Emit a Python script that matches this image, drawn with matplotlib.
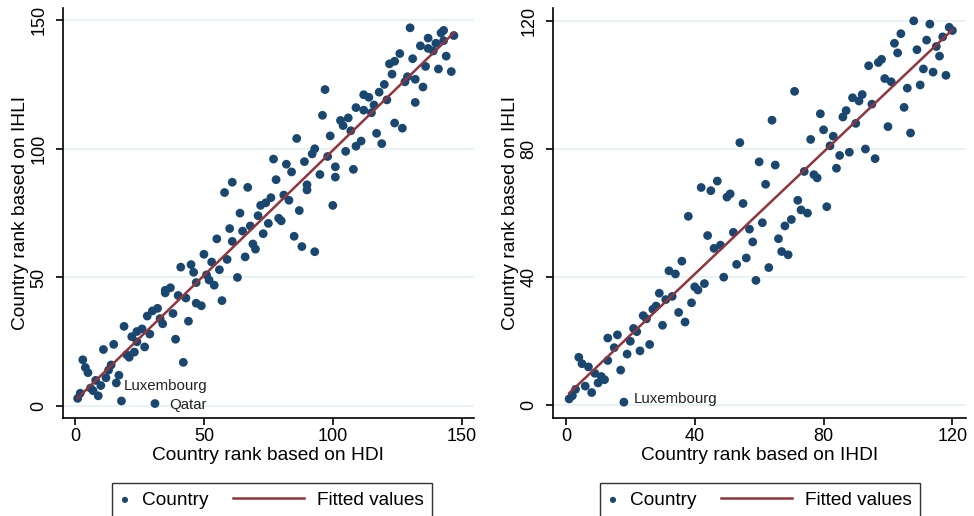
import numpy as np
import matplotlib
matplotlib.use("Agg")
import matplotlib.pyplot as plt
from matplotlib.legend_handler import HandlerPathCollection

plt.rcParams['font.family'] = ['Liberation Sans', 'DejaVu Sans']

# ---- Left panel: HDI rank vs IHLI rank ----
hdi_x = [130,142,143,147,137,143,140,134,137,139,126,131,144,122,124,136,141,146,123,129,128,132,120,118,135,
         112,114,97,121,116,132,109,112,115,96,103,106,104,107,124,127,99,86,117,119,111,109,93,92,105,98,77,89,
         82,101,108,84,95,101,78,61,58,67,90,90,81,83,76,74,72,64,71,79,87,100,
         80,75,60,65,68,73,85,55,61,69,70,88,93,50,66,59,53,45,41,56,46,51,63,52,47,54,37,35,35,40,43,57,47,49,
         32,30,28,38,33,34,44,19,26,24,29,22,39,24,15,27,11,23,20,21,42,3,4,5,14,13,8,10,12,17,16,6,7,9,2,1,18,31]
hdi_y = [147,145,146,144,143,142,141,140,139,138,137,135,136,133,134,132,131,130,129,128,126,127,125,122,124,
         121,120,123,119,117,118,116,115,114,113,111,112,109,107,110,108,105,104,106,102,103,101,100,98,99,97,96,95,
         94,93,92,91,90,89,88,87,83,85,86,84,82,80,81,79,78,75,74,73,76,78,
         72,71,69,68,70,67,66,65,64,63,61,62,60,59,58,57,56,55,54,53,52,51,50,49,48,47,46,45,44,43,42,41,40,39,
         38,37,35,36,34,32,33,31,30,29,28,27,26,25,24,23,22,21,20,19,17,18,15,13,16,14,10,8,11,12,9,7,6,4,5,3,2,1]

# ---- Right panel: IHDI rank vs IHLI rank ----
ihdi_x = [108,113,119,120,104,117,112,102,115,109,103,116,98,97,94,111,114,118,99,101,110,106,71,89,92,91,95,
          105,87,86,79,64,90,100,80,107,83,76,54,82,93,88,85,96,60,65,84,74,77,78,62,47,42,45,51,50,55,72,81,73,
          75,38,70,
          61,57,68,52,44,66,58,48,46,67,69,56,36,53,63,32,34,49,59,43,40,41,29,33,31,39,28,27,35,24,25,37,30,21,
          22,16,13,20,15,26,23,19,13,4,5,7,17,9,11,12,10,6,8,3,2,1,18]
ihdi_y = [120,119,118,117,116,115,114,113,112,111,110,109,108,107,106,105,104,103,102,101,100,99,98,96,97,95,94,
          93,92,90,91,89,88,87,86,85,84,83,82,81,80,79,78,77,76,75,74,73,72,71,69,70,68,67,66,65,63,64,62,61,
          60,59,58,
          57,55,56,54,53,52,51,50,49,48,47,46,45,44,43,42,41,40,39,38,37,36,35,34,33,32,31,30,29,28,27,26,25,24,
          23,22,21,20,18,19,17,16,14,15,13,12,11,10,9,8,7,6,4,5,3,2,1]

left_ticks = [0, 50, 100, 150]
right_ticks = [0, 40, 80, 120]

NAVY = '#1A476F'
MAROON = '#90353B'
GRID = '#EAF2F3'
FS_TICK = 13
FS_LAB = 13.8
FS_LEG = 13.7

W, H = 974, 516
fig = plt.figure(figsize=(W/100, H/100), dpi=100)


class ShortDot(HandlerPathCollection):
    def legend_artist(self, legend, orig_handle, fontsize, handlebox):
        handlebox.width = 0.45 * fontsize
        return super().legend_artist(legend, orig_handle, fontsize, handlebox)


def make_panel(rect, xs, ys, ticks, lim, xlabel, labels, legend_cx):
    ax = fig.add_axes(rect)
    xs = np.array(xs, float); ys = np.array(ys, float)
    ax.set_xlim(*lim); ax.set_ylim(*lim)
    for t in ticks:
        ax.axhline(t, color=GRID, lw=1.6, zorder=0)
    sc = ax.scatter(xs, ys, s=40, color=NAVY, edgecolors='none', zorder=3, label='Country')
    b, a = np.polyfit(xs, ys, 1)
    xx = np.array([xs.min(), xs.max()])
    ln, = ax.plot(xx, a + b*xx, color=MAROON, lw=1.8, zorder=4, label='Fitted values')
    for name, (px, py), (dx, dy) in labels:
        ax.annotate(name, (px, py), xytext=(dx, dy), textcoords='offset pixels',
                    ha='left', va='center', fontsize=10.8, color='#222222')
    for s in ['top', 'right']:
        ax.spines[s].set_visible(False)
    for s in ['left', 'bottom']:
        ax.spines[s].set_linewidth(1.2)
    ax.set_xticks(ticks); ax.set_yticks(ticks)
    ax.tick_params(direction='out', length=5, width=1.2, labelsize=FS_TICK)
    ax.tick_params(axis='x', pad=2)
    ax.tick_params(axis='y', pad=6)
    for lab in ax.get_yticklabels():
        lab.set_rotation(90); lab.set_va('center')
    ax.set_xlabel(xlabel, fontsize=FS_LAB, labelpad=1)
    ax.set_ylabel('Country rank based on IHLI', fontsize=FS_LAB, labelpad=1)
    leg = ax.legend(handles=[sc, ln], loc='upper center', ncol=2,
                    bbox_to_anchor=(legend_cx/W, (H-483)/H), bbox_transform=fig.transFigure,
                    fontsize=FS_LEG, frameon=True, fancybox=False, edgecolor='black',
                    handlelength=3.75, columnspacing=1.3, handletextpad=0.65,
                    borderpad=0.45, markerscale=0.7, borderaxespad=0,
                    handler_map={sc: ShortDot()})
    leg.get_frame().set_linewidth(1.0)
    return ax

make_panel([62.7/W, 0.189, (474-62.7)/W, 0.796], hdi_x, hdi_y, left_ticks,
           (-4.8, 154.8), 'Country rank based on HDI',
           [('Luxembourg', (18, 2), (2, 15)), ('Qatar', (31, 1), (14, -1))], 272)
make_panel([552.7/W, 0.189, (965.6-552.7)/W, 0.796], ihdi_x, ihdi_y, right_ticks,
           (-4.1, 124.1), 'Country rank based on IHDI',
           [('Luxembourg', (18, 1), (10, 3))], 760)

fig.savefig('out.png', dpi=100)
